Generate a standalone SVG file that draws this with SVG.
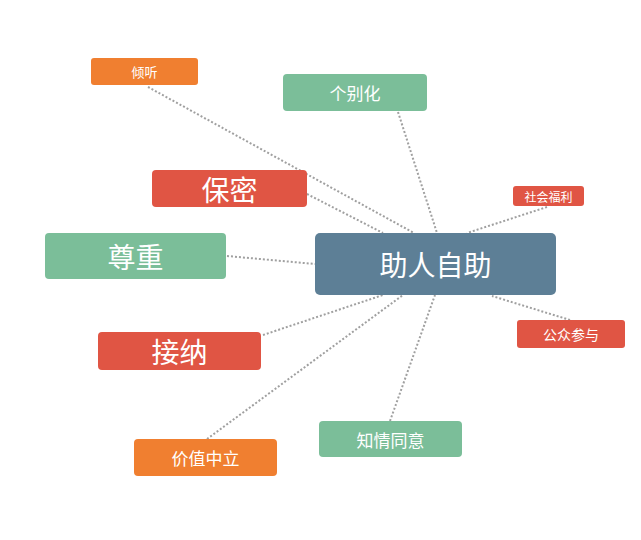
<svg xmlns="http://www.w3.org/2000/svg" width="641" height="540" viewBox="0 0 641 540">
<style>
.c{stroke:#a0a0a0;stroke-width:2;stroke-dasharray:2 2;fill:none}
.o{fill:#f07f30}.g{fill:#7bbe99}.r{fill:#e05544}.b{fill:#5d7f96}
text{fill:#fff;font-family:"Noto Sans CJK SC","Noto Sans",sans-serif;text-anchor:middle;dominant-baseline:central}
</style>
<rect width="641" height="540" fill="#fff"/>
<g id="connectors">
<line class="c" x1="148" y1="87" x2="414" y2="233"/>
<line class="c" x1="398" y1="112" x2="437" y2="233"/>
<line class="c" x1="307" y1="194" x2="383" y2="233"/>
<line class="c" x1="547" y1="207" x2="467" y2="233"/>
<line class="c" x1="227" y1="256" x2="315" y2="264"/>
<line class="c" x1="263" y1="335" x2="383" y2="295"/>
<line class="c" x1="207" y1="439" x2="403" y2="295"/>
<line class="c" x1="390" y1="421" x2="435" y2="295"/>
<line class="c" x1="570" y1="320" x2="492" y2="296"/>
</g>
<g id="center"><rect class="b" x="315" y="233" width="241" height="62" rx="5"/><text x="435.5" y="264" font-size="28">助人自助</text></g>
<g id="qingting"><rect class="o" x="91" y="58" width="107" height="27" rx="3"/><text x="144.5" y="71.5" font-size="13">倾听</text></g>
<g id="gebiehua"><rect class="g" x="283" y="74" width="144" height="37" rx="4"/><text x="355" y="92.5" font-size="17">个别化</text></g>
<g id="baomi"><rect class="r" x="152" y="170" width="155" height="37" rx="4"/><text x="229.5" y="188.5" font-size="28">保密</text></g>
<g id="shehuifuli"><rect class="r" x="513" y="186" width="71" height="20" rx="3"/><text x="548.5" y="196" font-size="12">社会福利</text></g>
<g id="zunzhong"><rect class="g" x="45" y="233" width="181" height="46" rx="4"/><text x="135.5" y="256" font-size="28">尊重</text></g>
<g id="gongzhongcanyu"><rect class="r" x="517" y="320" width="108" height="28" rx="3"/><text x="571" y="334" font-size="14">公众参与</text></g>
<g id="jiena"><rect class="r" x="98" y="332" width="163" height="38" rx="4"/><text x="179.5" y="351" font-size="28">接纳</text></g>
<g id="zhiqingtongyi"><rect class="g" x="319" y="421" width="143" height="36" rx="4"/><text x="390.5" y="439" font-size="17">知情同意</text></g>
<g id="jiazhizhongli"><rect class="o" x="134" y="439" width="143" height="37" rx="4"/><text x="205.5" y="457.5" font-size="17">价值中立</text></g>
</svg>
